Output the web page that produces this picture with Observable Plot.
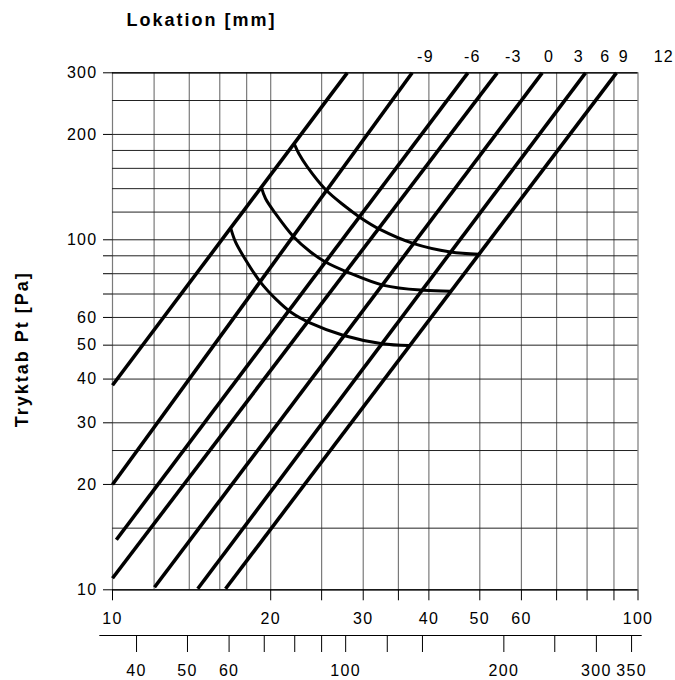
<!DOCTYPE html>
<html>
<head>
<meta charset="utf-8">
<script src="https://cdn.jsdelivr.net/npm/d3@7"></script>
<script src="https://cdn.jsdelivr.net/npm/@observablehq/plot@0.6"></script>
<style>
  html, body { margin: 0; padding: 0; background: #fff; }
</style>
</head>
<body>
<div id="chart"></div>
<script>
// Grid and tick values
const gridX = [10, 12, 14, 16, 18, 20, 25, 30, 35, 40, 50, 60, 70, 80, 90, 100];
const gridY = [10, 15, 20, 25, 30, 40, 50, 60, 70, 80, 90, 100, 120, 140, 160, 180, 200, 250, 300];
const xTicks = [10, 20, 25, 30, 35, 40, 50, 60, 70, 80, 90, 100];
const xLabels = [10, 20, 30, 40, 50, 60, 100];
const yTicks = [10, 20, 30, 40, 50, 60, 70, 80, 90, 100, 200, 300];
const yLabels = [10, 20, 30, 40, 50, 60, 100, 200, 300];
// Secondary flow axis (same log scale, factor 3.6)
const flowFactor = 3.6;
const flowTicks = [40, 50, 60, 70, 80, 90, 100, 120, 140, 200, 250, 300, 350];
const flowLabels = [40, 50, 60, 100, 200, 300, 350];
// Top "Lokation" labels and their positions on the x scale
const topLabels = ["-9", "-6", "-3", "0", "3", "6", "9", "12"];
const topLabelQ = [39.4, 48.4, 57.9, 67.7, 77.2, 86.7, 94.0, 112.0];
// Straight characteristic lines (start and end points)
const lineStartQ = [10, 10, 10.17, 10, 12.02, 14.53, 16.41];
const lineStartP = [38.4, 20, 13.9, 10.79, 10.17, 10.07, 10.07];
const lineEndQ = [27.97, 37.18, 47.45, 53.96, 65.72, 79.45, 91.0];
const lineEndP = [300, 300, 300, 300, 300, 300, 300];
// Curved arcs
const arc1Q = [22.23, 22.62, 23.48, 25.43, 27.55, 29.64, 32.36, 37.44, 43.98, 49.79];
const arc1P = [186.3, 176.4, 161.5, 139.2, 125.5, 115.7, 106.9, 97.5, 92.3, 90.9];
const arc2Q = [19.21, 19.55, 20.43, 22.13, 23.82, 25.43, 27.97, 32.83, 39.12, 43.98];
const arc2P = [141.0, 131.2, 118.8, 101.9, 92.3, 86.4, 80.9, 74.1, 71.7, 71.3];
const arc3Q = [16.82, 17.14, 17.78, 19.12, 20.58, 21.82, 23.82, 27.55, 32.6, 36.63];
const arc3P = [106.9, 98.6, 89.3, 75.7, 67.1, 62.2, 57.8, 53.3, 50.5, 49.9];

const titleText = "Lokation [mm]";
const yLabelText = "Tryktab Pt [Pa]";

const lineIdx = lineStartQ.map((_, i) => i);
const arcs = [
  ...arc1Q.map((q, i) => ({arc: 1, q, p: arc1P[i]})),
  ...arc2Q.map((q, i) => ({arc: 2, q, p: arc2P[i]})),
  ...arc3Q.map((q, i) => ({arc: 3, q, p: arc3P[i]}))
];

const W = 675, H = 680;
const mL = 112, mR = 37.5, mT = 72.3, mB = 90.7;
const frameMidY = (mT + H - mB) / 2;
const flowAxisDy = 45.7;

const chart = Plot.plot({
  width: W,
  height: H,
  marginLeft: mL,
  marginRight: mR,
  marginTop: mT,
  marginBottom: mB,
  x: {type: "log", domain: [10, 100]},
  y: {type: "log", domain: [10, 300]},
  style: {
    fontFamily: "'Liberation Sans', Arial, Helvetica, sans-serif",
    fontSize: "16px",
    background: "#fff",
    color: "#000"
  },
  marks: [
    Plot.ruleX(gridX, {stroke: "#7a7a7a", strokeWidth: 1.2}),
    Plot.ruleY(gridY, {stroke: "#222", strokeWidth: 1}),
    Plot.ruleY([10, 300], {stroke: "#000", strokeWidth: 1.2}),
    Plot.axisY({
      anchor: "left", ticks: yTicks,
      tickFormat: d => yLabels.includes(d) ? String(d) : "",
      tickSize: 9, tickPadding: 6, label: null
    }),
    Plot.axisX({
      anchor: "bottom", ticks: xTicks,
      tickFormat: d => xLabels.includes(d) ? String(d) : "",
      tickSize: 11, tickPadding: 12, label: null
    }),
    Plot.axisX({
      anchor: "bottom", ticks: flowTicks.map(v => v / flowFactor),
      tickFormat: d => {
        const v = Math.round(d * flowFactor);
        return flowLabels.includes(v) ? String(v) : "";
      },
      tickSize: 17, tickPadding: 12, dy: flowAxisDy, label: null
    }),
    Plot.ruleY([0], {y: null, dy: (H - mB + flowAxisDy) - frameMidY, insetLeft: -12.7, insetRight: -4.2, stroke: "#000", strokeWidth: 1.2}),
    Plot.link(lineIdx, {
      x1: i => lineStartQ[i], y1: i => lineStartP[i],
      x2: i => lineEndQ[i], y2: i => lineEndP[i],
      stroke: "#000", strokeWidth: 3.6
    }),
    Plot.line(arcs, {x: "q", y: "p", z: "arc", curve: "catmull-rom", stroke: "#000", strokeWidth: 3}),
    Plot.text(topLabels, {x: (d, i) => topLabelQ[i], frameAnchor: "top", lineAnchor: "middle", dy: -15.6, text: d => d, fontSize: 16}),
    Plot.text([titleText], {frameAnchor: "top-left", lineAnchor: "middle", dx: 14, dy: -52.3, textAnchor: "start", fontWeight: "bold", fontSize: 18}),
    Plot.text([yLabelText], {frameAnchor: "left", lineAnchor: "middle", textAnchor: "middle", dx: -90, dy: 18, rotate: -90, fontWeight: "bold", fontSize: 18})
  ]
});

const svg = d3.select(chart);
svg.style("letter-spacing", "1.3px");
svg.selectAll("text")
  .filter(function () { const t = this.textContent; return t === titleText || t === yLabelText; })
  .style("letter-spacing", "2px");
document.getElementById("chart").appendChild(chart);
</script>
</body>
</html>
